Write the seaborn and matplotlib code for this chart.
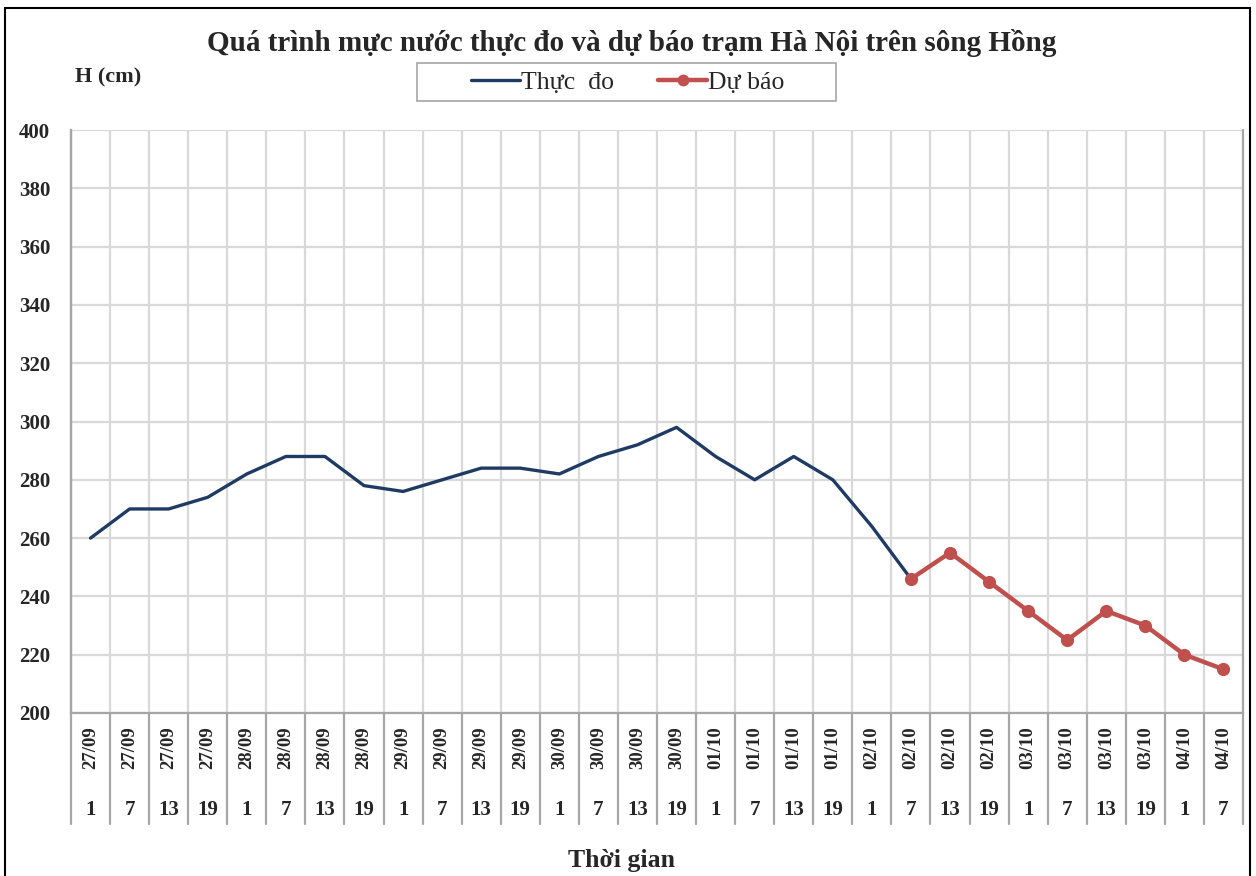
import numpy as np
import pandas as pd
import matplotlib
matplotlib.use("Agg")
import matplotlib.pyplot as plt
import matplotlib.transforms as mtransforms
from matplotlib.patches import Rectangle
from matplotlib.lines import Line2D
import seaborn as sns

# ---------------- data ----------------
dates = ["27/09"] * 4 + ["28/09"] * 4 + ["29/09"] * 4 + ["30/09"] * 4 + \
        ["01/10"] * 4 + ["02/10"] * 4 + ["03/10"] * 4 + ["04/10"] * 2
hours = ["1", "7", "13", "19"] * 7 + ["1", "7"]
observed = [260, 270, 270, 274, 282, 288, 288, 278, 276, 280, 284, 284, 282,
            288, 292, 298, 288, 280, 288, 280, 264, 246]
forecast = [246, 255, 245, 235, 225, 235, 230, 220, 215]
forecast_start = 21
yticks = [200, 220, 240, 260, 280, 300, 320, 340, 360, 380, 400]

title = "Quá trình mực nước thực đo và dự báo trạm Hà Nội trên sông Hồng"
ylabel = "H (cm)"
xlabel = "Thời gian"
obs_label = "Thực  đo"
fc_label = "Dự báo"

# ---------------- style ----------------
sns.set_theme(style="white")
plt.rcParams["font.family"] = ["Liberation Serif", "DejaVu Serif"]

BLUE = "#1F3B63"
RED = "#C0504D"
GRID = "#D9D9D9"
SEP = "#A6A6A6"

W, H = 1256, 876
fig = plt.figure(figsize=(W / 100, H / 100), dpi=100)
fig.patch.set_facecolor("white")

left, right, bottom, top = 71, 1243, 713, 130
ax = fig.add_axes([left / W, 1 - bottom / H, (right - left) / W, (bottom - top) / H])

n = len(dates)
obs_df = pd.DataFrame({"x": np.arange(len(observed)), "y": observed})
fc_df = pd.DataFrame({"x": np.arange(forecast_start, forecast_start + len(forecast)), "y": forecast})

sns.lineplot(data=obs_df, x="x", y="y", ax=ax, color=BLUE, linewidth=2.4, zorder=3)
sns.lineplot(data=fc_df, x="x", y="y", ax=ax, color=RED, linewidth=3.2, marker="o",
             markersize=9.5, markeredgewidth=0, zorder=4)

ax.set_xlim(-0.5, n - 0.5)
ax.set_ylim(200, 400)
ax.set_yticks(yticks)
ax.set_yticklabels([str(v) for v in yticks], fontsize=15, fontweight="bold")
ax.tick_params(axis="y", length=0, pad=15)
ax.set_xticks([])
ax.set_xlabel("")
ax.set_ylabel("")

# grid
for v in yticks:
    ax.axhline(v, color=GRID, linewidth=1.6, zorder=1)
for i in range(1, n):
    ax.axvline(i - 0.5, color=GRID, linewidth=1.6, zorder=1)

for s in ["top", "right"]:
    ax.spines[s].set_visible(False)
for s in ["left", "bottom"]:
    ax.spines[s].set_color(SEP)
    ax.spines[s].set_linewidth(1.6)

# category separators under the axis
trans = mtransforms.blended_transform_factory(ax.transData, ax.transAxes)
depth = -(824 - bottom) / (bottom - top)
for i in range(n + 1):
    y1 = 1.0 if i in (0, n) else 0.0
    ax.add_line(Line2D([i - 0.5, i - 0.5], [depth, y1],
                       transform=trans, color=SEP, linewidth=1.6, clip_on=False, zorder=2))

date_y = -(748 - bottom) / (bottom - top)
hour_y = -(810 - bottom) / (bottom - top)
for i in range(n):
    ax.text(i, date_y, dates[i], transform=trans, rotation=90, ha="center", va="center",
            fontsize=13.5, fontweight="bold")
    ax.text(i, hour_y, hours[i], transform=trans, ha="center", va="center",
            fontsize=15, fontweight="bold")

# titles
fig.text(632 / W, 1 - 43 / H, title, ha="center", va="center", fontsize=21, fontweight="bold")
fig.text(75 / W, 1 - 77 / H, ylabel, ha="left", va="center", fontsize=16, fontweight="bold")
fig.text(621 / W, 1 - 860 / H, xlabel, ha="center", va="center", fontsize=18.5, fontweight="bold")

# legend (frame drawn separately for wider padding)
handles = [Line2D([], [], color=BLUE, linewidth=2.4),
           Line2D([], [], color=RED, linewidth=3.2, marker="o", markersize=8.5, markeredgewidth=0)]
leg = fig.legend(handles, [obs_label, fc_label], loc="center",
                 bbox_to_anchor=(628 / W, 1 - 83 / H), ncol=2, frameon=False,
                 fontsize=18.5, handlelength=1.9, handletextpad=0.05, columnspacing=1.7)
fig.patches.append(Rectangle((417 / W, 1 - 101 / H), (836 - 417) / W, (101 - 63) / H,
                             transform=fig.transFigure, fill=False, edgecolor="#A6A6A6",
                             linewidth=1.2))

# outer frame
fig.patches.append(Rectangle((5 / W, -0.05), (1250 - 5) / W, 1.05 - 8 / H,
                             transform=fig.transFigure, fill=False, edgecolor="black",
                             linewidth=1.5))

fig.savefig("out.png", dpi=100, facecolor="white")
